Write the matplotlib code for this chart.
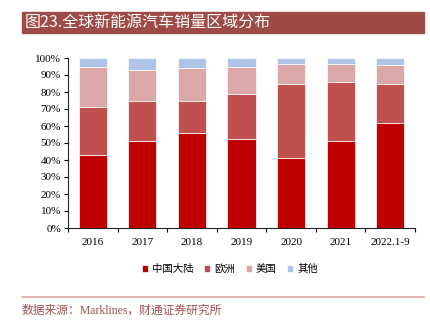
import numpy as np
import matplotlib.pyplot as plt
from matplotlib.patches import Rectangle
from matplotlib.ticker import FuncFormatter

plt.rcParams['font.family'] = ['Liberation Serif', 'Noto Sans CJK SC']

years = ['2016', '2017', '2018', '2019', '2020', '2021', '2022.1-9']
# cumulative tops (%) for each region stack
china_top = [42.9, 51.0, 55.7, 52.2, 41.3, 51.4, 61.6]
europe_top = [71.3, 75.0, 74.8, 78.7, 85.0, 86.0, 85.0]
usa_top = [94.5, 92.7, 94.1, 94.7, 96.3, 96.5, 95.7]

china = np.array(china_top)
europe = np.array(europe_top) - np.array(china_top)
usa = np.array(usa_top) - np.array(europe_top)
other = 100 - np.array(usa_top)

names = ['中国大陆', '欧洲', '美国', '其他']
colors = ['#C00000', '#C0504D', '#DBA7A7', '#AEC3E5']

fig = plt.figure(figsize=(4.31, 3.27), dpi=100)

# title banner
fig.patches.append(Rectangle((22 / 431, 1 - 33 / 327), 402 / 431, 21 / 327,
                             transform=fig.transFigure, color='#9E4B47', zorder=0))
fig.text(25 / 431, 1 - 22.5 / 327, '图23.全球新能源汽车销量区域分布', color='white',
         fontsize=11.5, va='center', ha='left', family=['Noto Sans CJK SC'])

ax = fig.add_axes([68 / 431, 1 - 228 / 327, 347 / 431, 170 / 327])
x = np.arange(len(years))
bottom = np.zeros(len(years))
for vals, name, c in zip([china, europe, usa, other], names, colors):
    ax.bar(x, vals, bottom=bottom, width=0.57, color=c, edgecolor='white',
           linewidth=0.5, label=name)
    bottom += vals

ax.set_xlim(-0.5, len(years) - 0.5)
ax.set_ylim(0, 100)
ax.set_yticks(np.arange(0, 101, 10))
ax.yaxis.set_major_formatter(FuncFormatter(lambda v, p: f'{v:.0f}%'))
ax.set_xticks(x)
ax.set_xticklabels(years)
ax.set_xticks(np.arange(-0.5, len(years), 1), minor=True)
ax.tick_params(axis='x', which='major', length=0, pad=7, labelsize=8)
ax.tick_params(axis='x', which='minor', length=3, width=0.8, direction='out')
ax.tick_params(axis='y', length=3, width=0.8, direction='out', labelsize=8, pad=2)
for s in ['top', 'right']:
    ax.spines[s].set_visible(False)
for s in ['left', 'bottom']:
    ax.spines[s].set_linewidth(0.8)
    ax.spines[s].set_color('#222222')

leg = fig.legend(loc='center', bbox_to_anchor=(230 / 431, 1 - 269 / 327), ncol=4,
                 frameon=False, handlelength=0.6, handleheight=0.6,
                 handletextpad=0.4, columnspacing=1.0,
                 prop={'family': ['Noto Sans CJK SC'], 'size': 7.5})

# footer rule and source note
fig.add_artist(plt.Line2D([22 / 431, 424 / 431], [1 - 297 / 327, 1 - 297 / 327],
                          transform=fig.transFigure, color='#D9A9A6', linewidth=1.2))
fig.text(22 / 431, 1 - 311 / 327, '数据来源：Marklines，财通证券研究所', color='#A0524E',
         fontsize=8.5, va='center', ha='left', family=['Liberation Serif', 'Noto Sans CJK SC'])

fig.savefig('out.png', dpi=100)
